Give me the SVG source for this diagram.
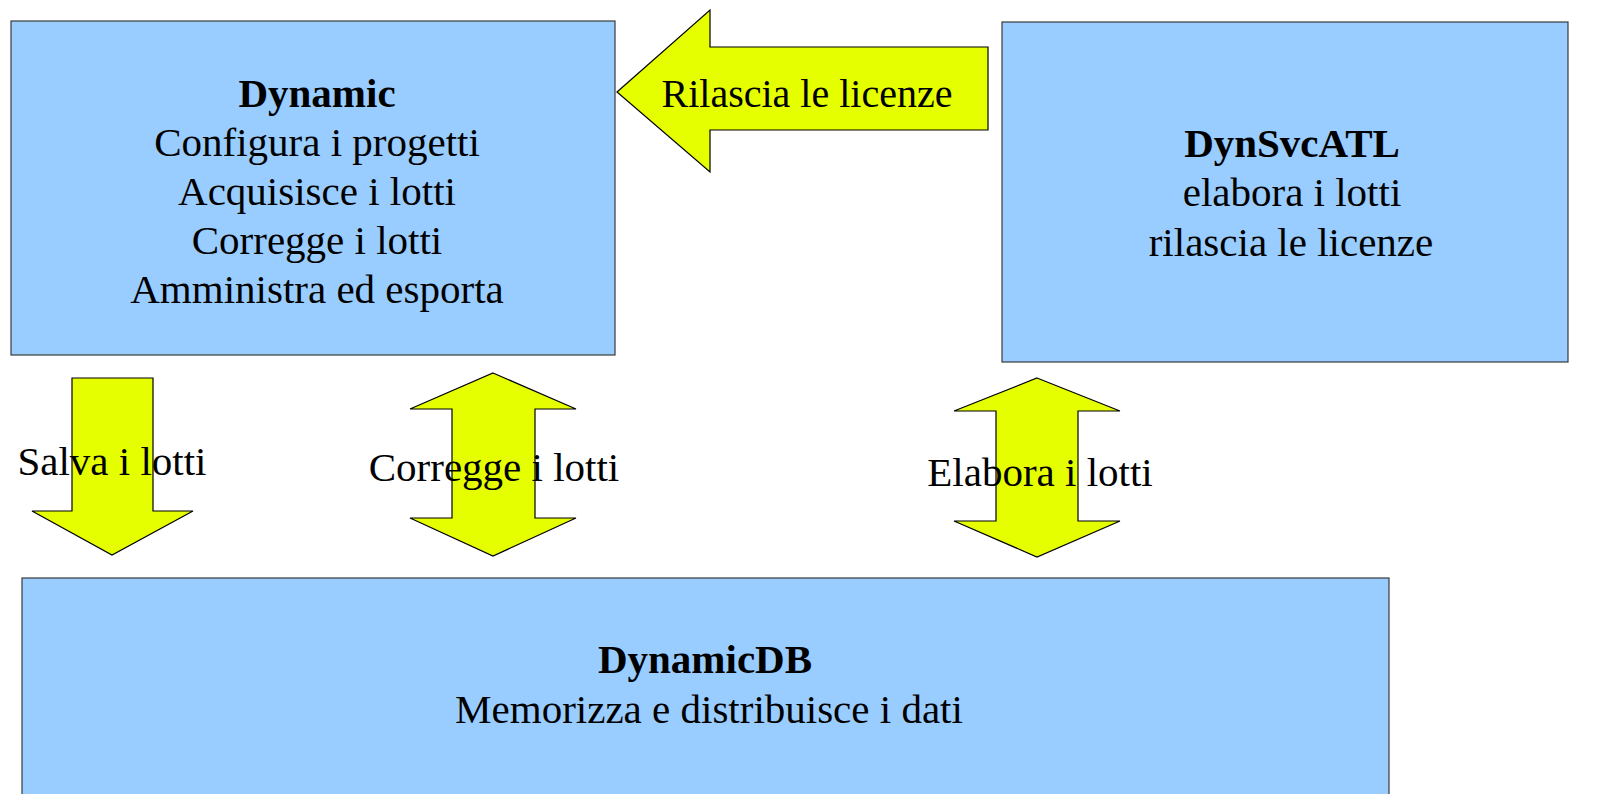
<svg xmlns="http://www.w3.org/2000/svg" width="1603" height="794" viewBox="0 0 1603 794">
<style>
.box{fill:#99ccff;stroke:#3a3a3a;stroke-width:1.2}
.arr{fill:#e6ff00;stroke:#000;stroke-width:1.2;stroke-linejoin:miter}
text{font-family:"Liberation Serif","Times New Roman",serif;font-size:41px;fill:#000;text-anchor:middle}
.b{font-weight:bold}
</style>
<rect width="1603" height="794" fill="#fff"/>
<g id="dynamic">
<rect class="box" x="11" y="21" width="604" height="334"/>
<text class="b" x="317" y="107">Dynamic</text>
<text x="317" y="156">Configura i progetti</text>
<text x="317" y="205">Acquisisce i lotti</text>
<text x="317" y="254">Corregge i lotti</text>
<text x="317" y="303">Amministra ed esporta</text>
</g>
<g id="dynsvcatl">
<rect class="box" x="1002" y="22" width="566" height="340"/>
<text class="b" x="1292" y="157">DynSvcATL</text>
<text x="1292" y="206">elabora i lotti</text>
<text x="1291" y="256">rilascia le licenze</text>
</g>
<g id="dynamicdb">
<rect class="box" x="22" y="578" width="1367" height="230"/>
<text class="b" x="705" y="673">DynamicDB</text>
<text x="709" y="723">Memorizza e distribuisce i dati</text>
</g>
<g id="connectors">
<g id="rilascia">
<polygon class="arr" points="617,92 710,10 710,47 988,47 988,130 710,130 710,172"/>
<text x="807" y="107" style="font-size:40px">Rilascia le licenze</text>
</g>
<g id="salva">
<polygon class="arr" points="72,378 153,378 153,511 193,511 112,555 32,511 72,511"/>
<text x="112" y="475">Salva i lotti</text>
</g>
<g id="corregge">
<polygon class="arr" points="493,373 576,409 535,409 535,518 576,518 493,556 410,518 452,518 452,409 410,409"/>
<text x="494" y="481">Corregge i lotti</text>
</g>
<g id="elabora">
<polygon class="arr" points="1037,378 1120,411 1078,411 1078,521 1120,521 1037,557 954,521 996,521 996,411 954,411"/>
<text x="1040" y="486">Elabora i lotti</text>
</g>
</g>
</svg>
